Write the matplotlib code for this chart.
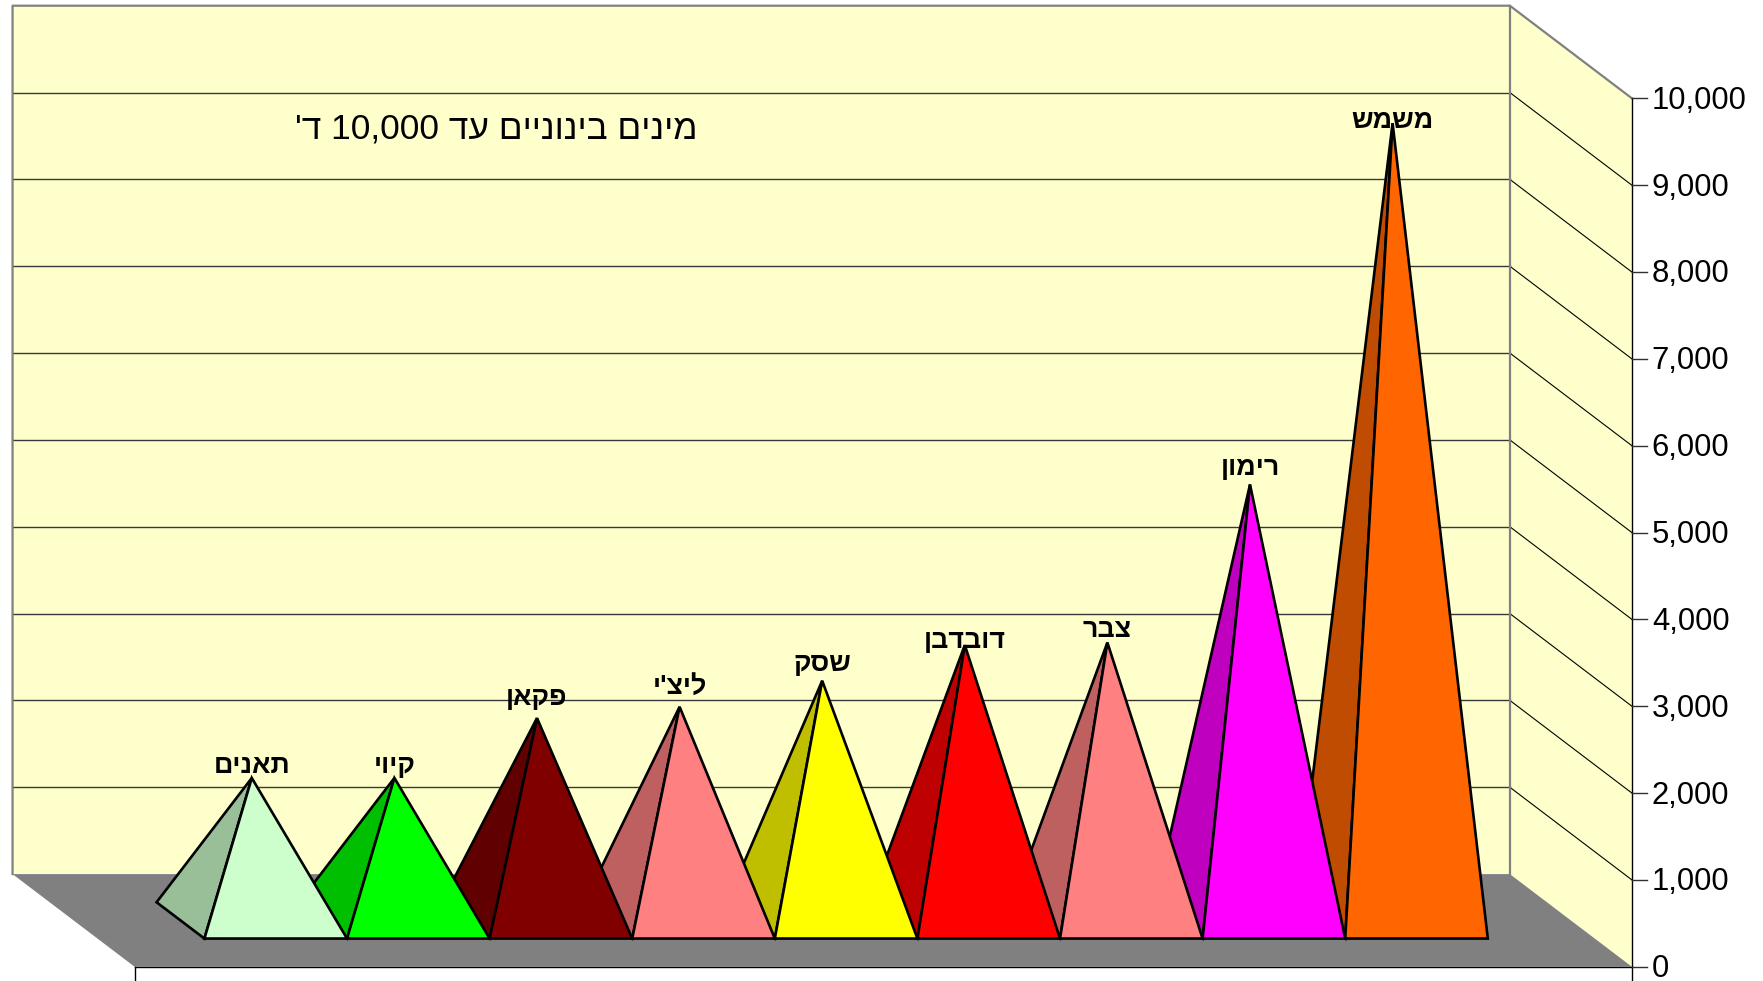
import re

import matplotlib
matplotlib.use('Agg')
import matplotlib.pyplot as plt

plt.rcParams['font.family'] = ['Liberation Sans', 'DejaVu Sans']

# Data
fruits = ['תאנים', 'קיוי', 'פקאן', "ליצ'י", 'שסק', 'דובדבן', 'צבר', 'רימון', 'משמש']
values = [1640, 1640, 2330, 2460, 2760, 3170, 3200, 5020, 9180]
front_colors = ['#CCFFCC', '#00FF00', '#800000', '#FF8080', '#FFFF00',
                '#FF0000', '#FF8080', '#FF00FF', '#FF6600']
side_colors = ['#99BF99', '#00BF00', '#600000', '#BF6060', '#BFBF00',
               '#BF0000', '#BF6060', '#BF00BF', '#BF4C00']
y_ticks = [0, 1000, 2000, 3000, 4000, 5000, 6000, 7000, 8000, 9000, 10000]
title = "מינים בינוניים עד 10,000 ד'"

# Label offset above the apex, pixels (the original chart nudged them by hand)
label_lift = [5, 5, 13, 13, 10, -3, 6, 9, -5]

# Oblique projection of the 3D box
W, H = 1763, 981
PX_X = 142.6           # pixels per category
PX_Y = 0.08684         # pixels per value unit
X_ORIGIN = 251.8       # pixel of category 0 at mid depth
Y_ORIGIN = 966.7       # pixel of value 0 on the front edge
SHIFT_X = 122 / PX_X   # how far the back wall sits to the left
SHIFT_Y = 92.6 / PX_Y  # and how far up
X_LEFT, X_RIGHT = -1.25, 9.25
Y_MAX = y_ticks[-1]
HALF_DEPTH = 0.196


def project(x, depth, value):
    return x + (0.5 - depth) * SHIFT_X, value + depth * SHIFT_Y


def shape(*corners):
    pts = [project(*c) for c in corners]
    return [p[0] for p in pts], [p[1] for p in pts]


def visual(text):
    # matplotlib has no bidi, so put the Hebrew in display order by hand
    flipped = text[::-1]
    return re.sub(r'[\d,]+', lambda m: m.group(0)[::-1], flipped)


fig = plt.figure(figsize=(W / 100, H / 100), dpi=100, facecolor='white')
ax = fig.add_axes([0, 0, 1, 1])
ax.set_xlim(-X_ORIGIN / PX_X, (W - X_ORIGIN) / PX_X)
ax.set_ylim(-(H - Y_ORIGIN) / PX_Y, Y_ORIGIN / PX_Y)
ax.axis('off')

# Walls and floor
wall = '#FFFFCC'
ax.fill(*shape((X_LEFT, 1, 0), (X_RIGHT, 1, 0), (X_RIGHT, 1, Y_MAX), (X_LEFT, 1, Y_MAX)),
        facecolor=wall, edgecolor='none', zorder=1)
ax.fill(*shape((X_RIGHT, 1, 0), (X_RIGHT, 0, 0), (X_RIGHT, 0, Y_MAX), (X_RIGHT, 1, Y_MAX)),
        facecolor=wall, edgecolor='none', zorder=1)
ax.fill(*shape((X_LEFT, 0, 0), (X_RIGHT, 0, 0), (X_RIGHT, 1, 0), (X_LEFT, 1, 0)),
        facecolor='#808080', edgecolor='none', zorder=2)

# Gridlines
for v in y_ticks[1:-1]:
    ax.plot(*shape((X_LEFT, 1, v), (X_RIGHT, 1, v)), color='#383838', lw=1.0, zorder=3)
    ax.plot(*shape((X_RIGHT, 1, v), (X_RIGHT, 0, v)), color='black', lw=0.8, zorder=3)

# Wall outline
ax.plot(*shape((X_LEFT, 1, 0), (X_LEFT, 1, Y_MAX), (X_RIGHT, 1, Y_MAX), (X_RIGHT, 0, Y_MAX)),
        color='#808080', lw=1.6, zorder=3)
ax.plot(*shape((X_RIGHT, 1, 0), (X_RIGHT, 1, Y_MAX)), color='#808080', lw=1.6, zorder=3)

# Axis lines, ticks and tick labels
tick_px = 15 / PX_X
corner_x, _ = project(X_RIGHT, 0, 0)
left_x, _ = project(X_LEFT, 0, 0)
bottom = ax.get_ylim()[0]
ax.plot([left_x, corner_x], [0, 0], color='black', lw=1.0, zorder=3)
ax.plot([left_x, left_x], [0, bottom], color='black', lw=1.0, zorder=3)
ax.plot([corner_x, corner_x], [bottom, Y_MAX], color='black', lw=1.0, zorder=3)
for v in y_ticks:
    ax.plot([corner_x, corner_x + tick_px], [v, v], color='#303030', lw=1.0, zorder=3)
    ax.text(corner_x + 20 / PX_X, v + 1 / PX_Y, f'{v:,}', fontsize=22.3, color='black',
            ha='left', va='center_baseline', zorder=6)

# Pyramids, right to left so each front face covers the next one's side
for i in range(len(values) - 1, -1, -1):
    near, far = 0.5 - HALF_DEPTH, 0.5 + HALF_DEPTH
    peak = (i, 0.5, values[i])
    z = 10 + (len(values) - i)
    ax.fill(*shape((i - 0.5, far, 0), (i - 0.5, near, 0), peak),
            facecolor=side_colors[i], edgecolor='black', lw=1.9, joinstyle='miter', zorder=z)
    ax.fill(*shape((i - 0.5, near, 0), (i + 0.5, near, 0), peak),
            facecolor=front_colors[i], edgecolor='black', lw=1.9, joinstyle='miter', zorder=z)

# Labels on the peaks
for i, name in enumerate(fruits):
    px, py = project(i, 0.5, values[i])
    ax.text(px, py + label_lift[i] / PX_Y, visual(name), fontsize=19.4, fontweight='bold',
            color='black', ha='center', va='baseline', zorder=30)

# Title inside the plot
ax.text((496 - X_ORIGIN) / PX_X, (Y_ORIGIN - 129) / PX_Y, visual(title), fontsize=25.4,
        color='black', ha='center', va='center', zorder=30)

fig.savefig('out.png', dpi=100)
